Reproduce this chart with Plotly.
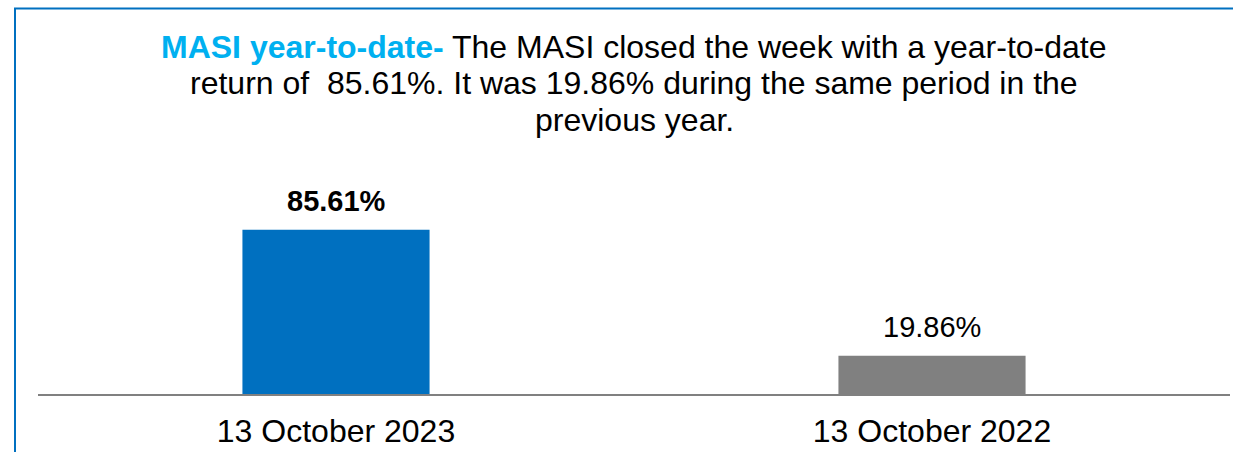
import plotly.graph_objects as go

categories = ["13 October 2023", "13 October 2022"]
values = [85.61, 19.86]
value_labels = ["<b>85.61%</b>", "19.86%"]
bar_colors = ["#0070C0", "#808080"]

title_lines = [
    "<b><span style='color:#00B0F0'>MASI year-to-date-</span></b> The MASI closed the week with a year-to-date",
    "return of \u00a085.61%. It was 19.86% during the same period in the",
    "previous year.",
]

FONT = "Liberation Sans, Arial, sans-serif"

fig = go.Figure(go.Bar(
    x=categories, y=values,
    marker=dict(color=bar_colors, line=dict(width=0)),
    width=0.314,
    cliponaxis=False,
))

W, H = 1233, 452
L, R, T, B = 38, 3, 140, 56
plot_h = H - T - B
plot_w = W - L - R
fig.update_layout(
    width=W, height=H,
    margin=dict(l=L, r=R, t=T, b=B),
    paper_bgcolor="white", plot_bgcolor="white",
    showlegend=False,
    xaxis=dict(showgrid=False, showline=True, linecolor="#808080", linewidth=2,
               ticks="", tickfont=dict(family=FONT, size=32, color="#000000"),
               ticklabelstandoff=8,
               range=[-0.5, 1.5], zeroline=False),
    yaxis=dict(visible=False, range=[0, 132.3], showgrid=False, zeroline=False),
)

# value labels above bars
for c, v, lab in zip(categories, values, value_labels):
    fig.add_annotation(x=c, y=v, xref="x", yref="y", text=lab, showarrow=False,
                       yanchor="bottom", yshift=11,
                       font=dict(family=FONT, size=29, color="#000000"))

# title lines (baselines at ~58, 95, 132 px)
def py(pix):
    return (H - B - pix) / plot_h

for i, line in enumerate(title_lines):
    base = 58 + 37 * i
    fig.add_annotation(x=0.5, xref="paper", y=py(base + 8), yref="paper",
                       text=line, showarrow=False, xanchor="center", yanchor="bottom",
                       font=dict(family=FONT, size=32, color="#000000"))

# outer frame (blue border, extending beyond the right/bottom of the view)
x0 = (15 - L) / plot_w
fig.add_shape(type="rect", xref="paper", yref="paper",
              x0=x0, x1=1.05, y0=-0.5, y1=py(7.5),
              line=dict(color="#0070C0", width=2), fillcolor="rgba(0,0,0,0)", layer="below")

fig.write_html("out.html")
